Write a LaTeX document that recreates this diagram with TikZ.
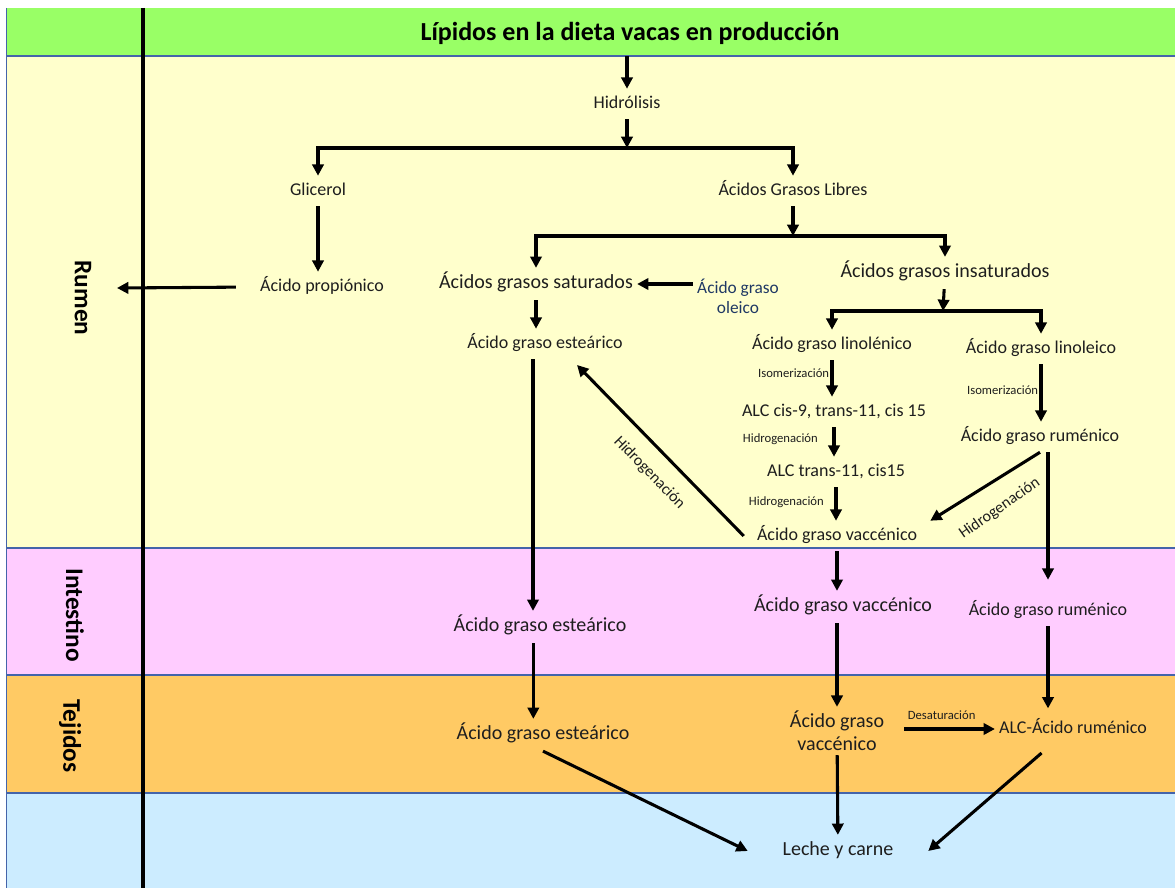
\documentclass[tikz,border=0pt]{standalone}
\usepackage{fontspec}
\setmainfont{Carlito}
\usetikzlibrary{arrows.meta, positioning, calc}
\definecolor{colorTitle}{RGB}{153,255,102}
\definecolor{colorRumen}{RGB}{255,255,204}
\definecolor{colorGut}{RGB}{255,204,255}
\definecolor{colorTissue}{RGB}{255,202,100}
\definecolor{colorOut}{RGB}{204,236,255}
\definecolor{colorEdge}{RGB}{68,100,170}
\definecolor{colorText}{RGB}{30,30,30}
\definecolor{colorOleic}{RGB}{31,56,100}

\begin{document}
\begin{tikzpicture}[
  x=0.75pt, y=-0.75pt,
  lbl/.style={font=\fontsize{13.5}{16}\selectfont, text=colorText,
    inner xsep=3pt, inner ysep=5pt, text height=9.5pt, text depth=3pt},
  blbl/.style={lbl, font=\fontsize{15}{18}\selectfont,
    text height=10.5pt, text depth=3.3pt},
  mlbl/.style={font=\fontsize{#1}{1.15\dimexpr#1pt\relax}\selectfont,
    text=colorText, align=center, inner sep=3pt},
  slbl/.style={font=\fontsize{9.5}{11}\selectfont, text=colorText, inner sep=1pt},
  hlbl/.style={font=\fontsize{12}{14}\selectfont, text=colorText, sloped},
  side/.style={font=\fontsize{19}{22}\selectfont\bfseries, rotate=-90},
  arr/.style={-{Triangle[length=8.5pt,width=8.5pt]}, line width=2.3pt},
  band/.style={draw=colorEdge, line width=0.8pt},
]
\useasboundingbox (0,0) rectangle (1175,888);

% Bands
\fill[colorTitle] (6,8) rectangle (1175,56);
\fill[colorRumen] (6,56) rectangle (1175,548);
\fill[colorGut] (6,548) rectangle (1175,675);
\fill[colorTissue] (6,675) rectangle (1175,793);
\fill[colorOut] (6,793) rectangle (1175,888);
\draw[band, line width=0.5pt] (6,8) -- (6,888);
\foreach \y in {56,793} \draw[band] (6,\y) -- (1175,\y);
\draw[band, line width=1.3pt] (6,548) -- (1175,548);
\draw[band, line width=1.8pt] (6,675) -- (1175,675);
\draw[line width=2.3pt] (143,8) -- (143,888);

% Side labels
\node[side] (rumen) at (83,298) {Rumen};
\node[side] (intest) at (75,615) {Intestino};
\node[side] (tejid) at (70,736) {Tejidos};

% Title
\node[font=\fontsize{19.5}{23}\selectfont\bfseries] (title) at (630,33)
  {Lípidos en la dieta vacas en producción};

% Rumen
\coordinate (top) at (627,56);
\node[lbl] (hidro) at (627,104) {Hidrólisis};
\coordinate (split1) at (627,148);
\node[lbl] (glic) at (318,191) {Glicerol};
\node[lbl] (agl) at (793,191) {Ácidos Grasos Libres};
\node[lbl] (prop) at (322,287) {Ácido propiónico};
\coordinate (absorb) at (117,288);
\coordinate (split2) at (793,236);
\node[blbl] (sat) at (536,284) {Ácidos grasos saturados};
\node[blbl] (insat) at (945,273) {Ácidos grasos insaturados};
\node[mlbl=13, text=colorOleic] (oleico) at (738,296) {Ácido graso\\oleico};
\node[lbl] (este1) at (545,344) {Ácido graso esteárico};
\coordinate (split3) at (943,311);
\node[lbl] (lino1) at (832,345) {Ácido graso linolénico};
\node[lbl] (lino2) at (1041,349) {Ácido graso linoleico};
\node[lbl] (alc1) at (834,412) {ALC cis-9, trans-11, cis 15};
\node[lbl] (alc2) at (836,472) {ALC trans-11, cis15};
\node[lbl] (rum1) at (1040,437) {Ácido graso ruménico};
\node[lbl, minimum width=139.5pt] (vac1) at (837,536) {Ácido graso vaccénico};

% Intestino
\node[blbl] (este2) at (540,627) {Ácido graso esteárico};
\node[blbl] (vac2) at (843,607) {Ácido graso vaccénico};
\node[lbl] (rum2) at (1048,611) {Ácido graso ruménico};

% Tejidos
\node[blbl] (este3) at (543,735) {Ácido graso esteárico};
\node[mlbl=15] (vac3) at (837,731) {Ácido graso\\vaccénico};
\node[lbl] (alc3) at (1073,729) {ALC-Ácido ruménico};

% Output
\node[blbl, minimum width=135pt] (leche) at (838,851) {Leche y carne};

% Arrows
\draw[arr] (top) -- (hidro);
\draw[arr] (hidro) -- (split1);
\draw[arr] (split1) -| (glic);
\draw[arr] (split1) -| (agl);
\draw[arr] (glic) -- (glic |- prop.north);
\draw[arr, shorten <=15pt] (prop.west) -- (absorb);
\draw[arr] (agl) -- (split2);
\draw[arr] (split2) -| (sat);
\draw[arr] (split2) -| (insat);
\draw[arr] (oleico.west |- sat.east) -- (sat.east);
\draw[arr] (sat) -- (sat |- este1.north);
\draw[arr] (insat) -- (split3);
\draw[arr] (split3) -| (lino1);
\draw[arr] (split3) -| (lino2);

\draw[arr] (lino1) -- node[slbl, left, pos=0.35]{Isomerización} (lino1 |- alc1.north);
\draw[arr] (alc1) -- node[slbl, left=10pt, pos=0.4]{Hidrogenación} (alc1 |- alc2.north);
\draw[arr] (alc2) -- node[slbl, left=7pt, pos=0.45]{Hidrogenación} (alc2 |- vac1.north);
\draw[arr] (lino2) -- node[slbl, left, pos=0.45]{Isomerización} (lino2 |- rum1.north);

\draw[arr] (rum1.south) -- node[hlbl, below=10pt, rotate=3]{Hidrogenación} (vac1.north east);
\draw[arr, shorten >=6pt] (vac1.west) -- node[hlbl, below=8pt, pos=0.45]{Hidrogenación} (este1.-30);

\draw[arr] ([xshift=-9pt]este1.south) -- ([xshift=-9pt]este1.south |- este2.north);
\draw[arr] (vac1) -- (vac1 |- vac2.north);
\draw[arr, shorten >=12pt] ([xshift=6pt]rum1.south) -- ([xshift=6pt]rum1.south |- rum2.north);

\draw[arr] ([xshift=-5pt]este2.south) -- ([xshift=-5pt]este2.south |- este3.north);
\draw[arr] (vac2.south -| vac3) -- (vac3);
\draw[arr, shorten >=4pt] (rum2) -- (rum2 |- alc3.north);
\draw[arr, shorten <=12pt] (vac3.east |- alc3) -- node[slbl, above=5pt]{Desaturación} (alc3);

\draw[arr] (este3.south) -- (leche.west);
\draw[arr] (vac3) -- (leche);
\draw[arr, shorten <=10pt] ([xshift=-16pt]alc3.south) -- (leche.east);

\end{tikzpicture}
\end{document}
